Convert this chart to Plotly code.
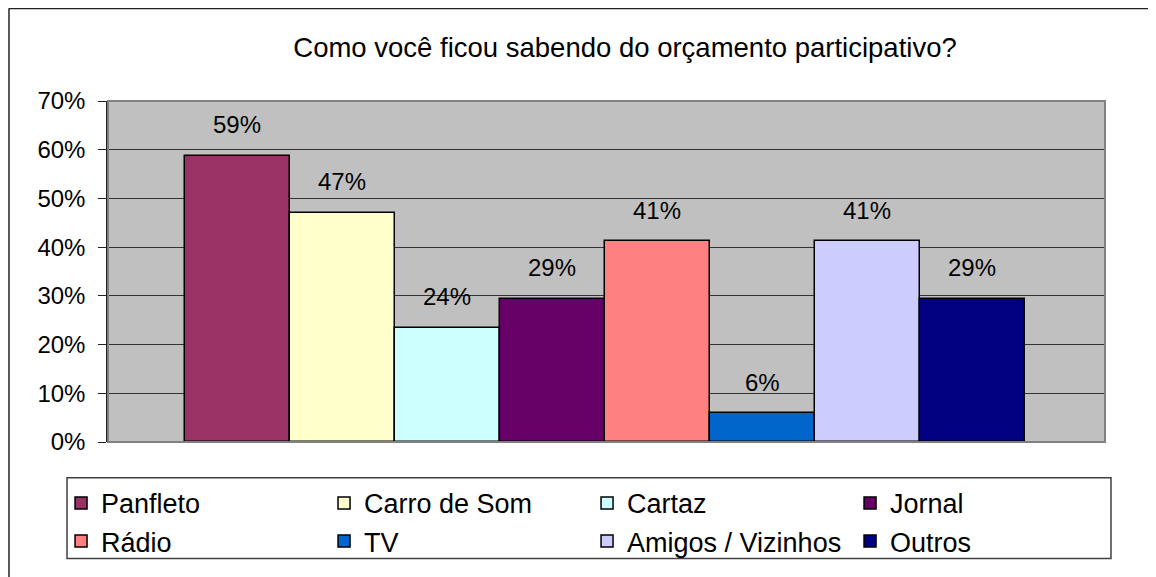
import plotly.graph_objects as go

# survey answers (percent of respondents)
categories = ["Panfleto", "Carro de Som", "Cartaz", "Jornal",
              "Rádio", "TV", "Amigos / Vizinhos", "Outros"]
values = [58.8, 47.1, 23.5, 29.4, 41.2, 5.9, 41.2, 29.4]
colors = ["#993366", "#FFFFCC", "#CCFFFF", "#660066",
          "#FF8080", "#0066CC", "#CCCCFF", "#000080"]
tick_vals = [0, 10, 20, 30, 40, 50, 60, 70]
tick_text = ["0%", "10%", "20%", "30%", "40%", "50%", "60%", "70%"]

FONT = "Liberation Sans, Arial, sans-serif"

fig = go.Figure()
for name, val, col in zip(categories, values, colors):
    fig.add_trace(go.Bar(
        x=[name], y=[val], name=name,
        marker=dict(color=col, line=dict(color="black", width=1.5)),
        width=1,
    ))
    fig.add_annotation(
        x=name, y=val, text=f"{val:.0f}%", showarrow=False,
        yshift=31, font=dict(size=24, color="black", family=FONT),
    )

# outer chart frame (top and left edges visible)
fig.add_shape(type="line", xref="paper", yref="paper",
              x0=-0.0993, x1=1.06, y0=1.2719, y1=1.2719,
              line=dict(color="#222", width=2))
fig.add_shape(type="line", xref="paper", yref="paper",
              x0=-0.0993, x1=-0.0993, y0=1.2719, y1=-0.40,
              line=dict(color="#222", width=1.5))
# plot area border
fig.add_shape(type="rect", xref="paper", yref="paper",
              x0=0, x1=1, y0=0, y1=1, layer="above",
              line=dict(color="#808080", width=2))
# legend box
fig.add_shape(type="rect", xref="paper", yref="paper",
              x0=-0.0411, x1=1.006, y0=-0.105, y1=-0.342,
              fillcolor="white", layer="below",
              line=dict(color="#404040", width=1.5))

fig.update_layout(
    width=1148, height=569,
    margin=dict(l=100, r=51, t=93, b=134),
    paper_bgcolor="white", plot_bgcolor="#C0C0C0",
    font=dict(family=FONT, color="black"),
    barmode="overlay", bargap=0,
    showlegend=True,
    title=dict(text="Como você ficou sabendo do orçamento participativo?",
               x=0.5186, xref="paper", xanchor="center",
               y=1 - 39 / 569, yref="container", yanchor="middle",
               font=dict(size=27.5, family=FONT, color="black")),
    legend=dict(orientation="h", x=-0.0471, xanchor="left",
                y=-0.105, yanchor="top",
                entrywidth=218, entrywidthmode="pixels",
                bgcolor="rgba(0,0,0,0)", borderwidth=0,
                font=dict(size=27, family=FONT, color="black"),
                traceorder="normal"),
    xaxis=dict(type="category", categoryorder="array", categoryarray=categories,
               range=[-1.233, 8.262], showticklabels=False, showgrid=False,
               zeroline=False, showline=False, ticks=""),
    yaxis=dict(range=[0, 70], tickvals=tick_vals, ticktext=tick_text,
               showgrid=True, gridcolor="#333333", gridwidth=1,
               zeroline=False, showline=True, linecolor="#222", linewidth=1.5,
               ticks="outside", ticklen=8, tickcolor="#222",
               ticklabelstandoff=8,
               tickfont=dict(size=24, family=FONT, color="black")),
)

fig.write_html("out.html")
